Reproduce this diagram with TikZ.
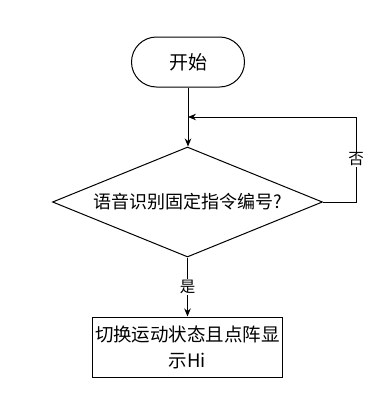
\documentclass[tikz,border=0pt]{standalone}
\usepackage{fontspec}
\newfontfamily\cjk{Noto Sans CJK SC}
\usetikzlibrary{shapes.geometric,arrows.meta}
\begin{document}
\begin{tikzpicture}[x=1pt,y=-1pt,
  every node/.style={font=\cjk},
  line/.style={draw=black,line width=1pt},
  arr/.style={line,-{Stealth[length=8pt,width=6.5pt]}},
  term/.style={draw=black,line width=1pt,rectangle,rounded corners=25pt,minimum width=113pt,minimum height=50pt,inner sep=0pt,font=\cjk\fontsize{19}{22}\selectfont},
  decision/.style={draw=black,line width=1pt,diamond,aspect=2.4545,minimum width=270pt,minimum height=110pt,inner sep=0pt,font=\cjk\fontsize{18}{22}\selectfont},
  procbox/.style={draw=black,line width=1pt,rectangle,minimum width=190pt,minimum height=60pt,inner sep=0pt,align=center,font=\cjk\fontsize{18.5}{26}\selectfont},
  lbl/.style={fill=white,inner sep=1pt,font=\cjk\fontsize{15.5}{17}\selectfont}
]
\useasboundingbox (0,0) rectangle (375,405);
\node[term] (start) at (188,62) {开始};
\node[decision] (dec) at (187.5,202) {语音识别固定指令编号?};
\node[procbox] (act) at (187.5,347) {切换运动状态且点阵显\\示Hi};
\coordinate (join) at (188,117);
\coordinate (rt) at (356,202);
\coordinate (rtop) at (356,117);
\draw[arr] (start.south) -- (start.south |- dec.north);
\draw[arr] (dec.east) -- (rt) -- node[lbl,pos=0.5] {否} (rtop) -- (join);
\draw[arr] (dec.south) -- node[lbl,pos=0.5] {是} (act.north);
\end{tikzpicture}
\end{document}
